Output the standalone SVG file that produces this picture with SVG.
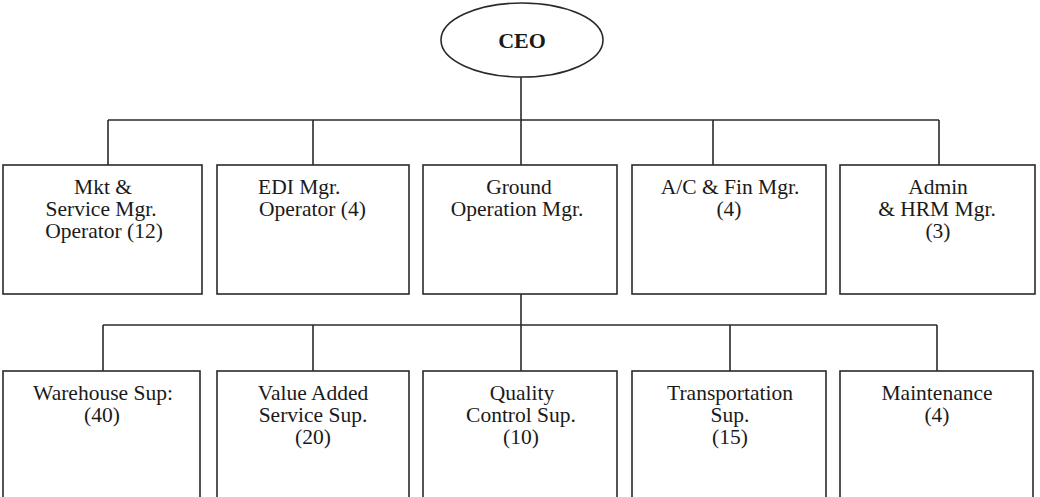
<svg xmlns="http://www.w3.org/2000/svg" width="1040" height="497" viewBox="0 0 1040 497">
<style>
.box{fill:#fff;stroke:#2a2a2a;stroke-width:1.6}
.ln{fill:none;stroke:#2a2a2a;stroke-width:1.6}
text{font-family:"Liberation Serif","Times New Roman",serif;font-size:21.5px;fill:#1a1a1a;text-anchor:middle}
.b{font-weight:bold;font-size:22px}
.s{text-anchor:start}
</style>
<rect width="1040" height="497" fill="#fff"/>
<g id="connectors">
<path class="ln" d="M521,77 V165"/>
<path class="ln" d="M108,120 H939"/>
<path class="ln" d="M108,120 V165 M313,120 V165 M713,120 V165 M939,120 V165"/>
<path class="ln" d="M521,294 V371"/>
<path class="ln" d="M103,325 H937"/>
<path class="ln" d="M103,325 V371 M313,325 V371 M730,325 V371 M937,325 V371"/>
</g>
<g id="ceo"><ellipse class="box" cx="522" cy="40" rx="81" ry="37"/><text class="b" x="522" y="48">CEO</text></g>
<g id="mkt"><rect class="box" x="3" y="165" width="199" height="129"/><text x="103" y="194">Mkt &amp;</text><text x="101" y="216">Service Mgr.</text><text x="104" y="238">Operator (12)</text></g>
<g id="edi"><rect class="box" x="217" y="165" width="192" height="129"/><text class="s" x="258" y="194">EDI Mgr.</text><text class="s" x="259" y="216">Operator (4)</text></g>
<g id="ground"><rect class="box" x="423" y="165" width="194" height="129"/><text x="519" y="194">Ground</text><text x="517" y="216">Operation Mgr.</text></g>
<g id="acfin"><rect class="box" x="632" y="165" width="194" height="129"/><text x="730" y="194">A/C &amp; Fin Mgr.</text><text x="729" y="216">(4)</text></g>
<g id="admin"><rect class="box" x="840" y="165" width="195" height="129"/><text x="938" y="194">Admin</text><text x="937" y="216">&amp; HRM Mgr.</text><text x="938" y="238">(3)</text></g>
<g id="warehouse"><rect class="box" x="3" y="371" width="197" height="140"/><text x="103" y="400">Warehouse Sup:</text><text x="102" y="422">(40)</text></g>
<g id="vas"><rect class="box" x="217" y="371" width="192" height="140"/><text x="313" y="400">Value Added</text><text x="313" y="422">Service Sup.</text><text x="313" y="444">(20)</text></g>
<g id="qc"><rect class="box" x="423" y="371" width="194" height="140"/><text x="522" y="400">Quality</text><text x="521" y="422">Control Sup.</text><text x="521" y="444">(10)</text></g>
<g id="transport"><rect class="box" x="632" y="371" width="194" height="140"/><text x="730" y="400">Transportation</text><text x="730" y="422">Sup.</text><text x="730" y="444">(15)</text></g>
<g id="maint"><rect class="box" x="840" y="371" width="193" height="140"/><text x="937" y="400">Maintenance</text><text x="937" y="422">(4)</text></g>
</svg>
